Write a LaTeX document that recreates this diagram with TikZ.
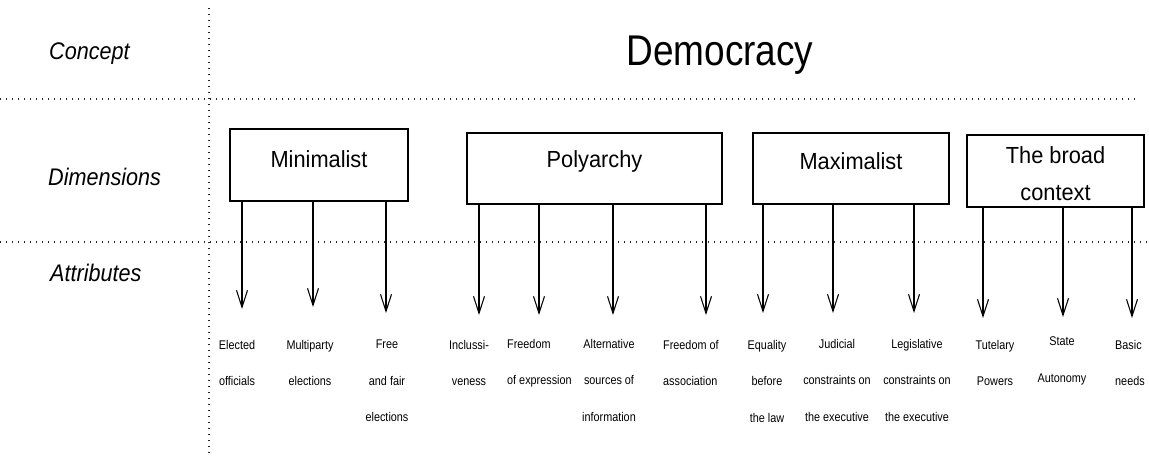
\documentclass[tikz,border=0pt]{standalone}
\usepackage{fontspec}
\setmainfont{Liberation Sans}
\newfontfamily\myfattr[FakeStretch=0.86]{Liberation Sans}
\newfontfamily\myfboxlab[FakeStretch=0.935]{Liberation Sans}
\newfontfamily\myfrow[FakeStretch=0.9]{Liberation Sans}
\newfontfamily\myftitle[FakeStretch=0.86]{Liberation Sans}
\usetikzlibrary{arrows.meta}
\begin{document}
\begin{tikzpicture}[x=1pt,y=-1pt,
  dotline/.style={line width=1.3pt, dash pattern=on 1.3pt off 4.7pt, black!85},
  dimbox/.style={draw, line width=1.3pt, inner sep=0pt},
  boxlabel/.style={font=\myfboxlab\fontsize{23.3}{37}\selectfont, inner sep=0pt, anchor=base, align=center},
  rowlabel/.style={font=\myfrow\fontsize{24}{28}\selectfont\itshape, inner sep=0pt, anchor=base west},
  attr/.style={font=\myfattr\fontsize{12.6}{36.5}\selectfont, inner sep=0pt, anchor=north, align=center},
  attrl/.style={attr, anchor=north west, align=left},
  arr/.style={line width=1.05pt, -{Straight Barb[length=17pt,width=11pt]}}
]
\useasboundingbox (0,0) rectangle (1149,457);

% dotted grid
\coordinate (vtop) at (209,8);
\coordinate (vbot) at (209,457);
\coordinate (h1l) at (0,99);
\coordinate (h1r) at (1138,99);
\coordinate (h2l) at (0,242);
\coordinate (h2r) at (1149,242);
\draw[dotline] (vtop) -- (vbot);
\draw[dotline] (h1l) -- (h1r);
\draw[dotline] (h2l) -- (h2r);

% row labels
\node[rowlabel] (lconcept) at (49,59.5) {Concept};
\node[rowlabel] (ldim) at (48,185.5) {Dimensions};
\node[rowlabel] (lattr) at (50,281) {Attributes};

% concept
\node[font=\myftitle\fontsize{43}{50}\selectfont, inner sep=0pt, anchor=base] (demo) at (720,66) {Democracy};

% dimension boxes
\node[dimbox, minimum width=178pt, minimum height=72pt] (bmin) at (319,165) {};
\node[dimbox, minimum width=255pt, minimum height=71pt] (bpol) at (594.5,168.5) {};
\node[dimbox, minimum width=196pt, minimum height=71pt] (bmax) at (851,168.5) {};
\node[dimbox, minimum width=177pt, minimum height=72pt] (bbro) at (1055.5,171) {};

\node[boxlabel] (tmin) at (319,168) {Minimalist};
\node[boxlabel] (tpol) at (594.5,168) {Polyarchy};
\node[boxlabel] (tmax) at (851,170) {Maximalist};
\node[boxlabel, anchor=north] (tbro) at (1055.5,146) {The broad\\context};

% arrow tips
\coordinate (a1) at (242,309);
\coordinate (a2) at (313,307);
\coordinate (a3) at (386,313);
\coordinate (a4) at (479,315);
\coordinate (a5) at (539,315);
\coordinate (a6) at (613,315);
\coordinate (a7) at (706,315);
\coordinate (a8) at (763,313);
\coordinate (a9) at (833,313);
\coordinate (a10) at (914,313);
\coordinate (a11) at (983,318);
\coordinate (a12) at (1063,317);
\coordinate (a13) at (1132,318);

\draw[arr] (a1 |- bmin.south) -- (a1);
\draw[arr] (a2 |- bmin.south) -- (a2);
\draw[arr] (a3 |- bmin.south) -- (a3);
\draw[arr] (a4 |- bpol.south) -- (a4);
\draw[arr] (a5 |- bpol.south) -- (a5);
\draw[arr] (a6 |- bpol.south) -- (a6);
\draw[arr] (a7 |- bpol.south) -- (a7);
\draw[arr] (a8 |- bmax.south) -- (a8);
\draw[arr] (a9 |- bmax.south) -- (a9);
\draw[arr] (a10 |- bmax.south) -- (a10);
\draw[arr] (a11 |- bbro.south) -- (a11);
\draw[arr] (a12 |- bbro.south) -- (a12);
\draw[arr] (a13 |- bbro.south) -- (a13);

% attributes
\node[attr] (x1) at (237,340) {Elected\\officials};
\node[attr] (x2) at (310,340) {Multiparty\\elections};
\node[attr] (x3) at (387,340) {Free\\and fair\\elections};
\node[attr] (x4) at (469,340) {Inclussi-\\veness};
\node[attrl] (x5) at (507,339) {Freedom\\of expression};
\node[attr] (x6) at (609,339) {Alternative\\sources of\\information};
\node[attrl] (x7) at (663,340) {Freedom of\\association};
\node[attr] (x8) at (767,340) {Equality\\before\\the law};
\node[attr] (x9) at (837,339) {Judicial\\constraints on\\the executive};
\node[attr] (x10) at (917,339) {Legislative\\constraints on\\the executive};
\node[attr] (x11) at (995,340) {Tutelary\\Powers};
\node[attr] (x12) at (1062,337) {State\\Autonomy};
\node[attrl] (x13) at (1115,340) {Basic\\needs};
\end{tikzpicture}
\end{document}
